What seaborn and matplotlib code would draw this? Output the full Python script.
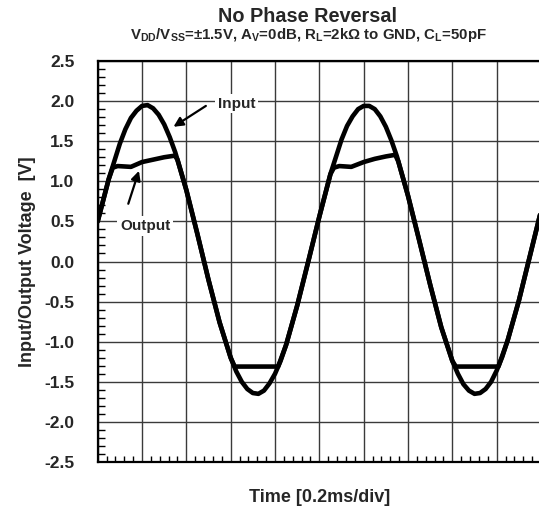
import matplotlib
matplotlib.use("Agg")
import matplotlib.pyplot as plt
from matplotlib.ticker import MultipleLocator, NullFormatter
import pandas as pd
import seaborn as sns

# Waveform samples (time in divisions of 0.2 ms, voltage in V)
input_time = [0.0, 0.25, 0.5, 0.625, 0.75, 0.875, 1.0, 1.125, 1.25, 1.375, 1.5, 1.625,
              1.75, 2.0, 2.25, 2.5, 2.75, 3.0, 3.125, 3.25, 3.375, 3.5, 3.625, 3.75,
              3.875, 4.0, 4.125, 4.25, 4.5, 4.75, 5.0, 5.25, 5.5, 5.625, 5.75, 5.875,
              6.0, 6.125, 6.25, 6.375, 6.5, 6.625, 6.75, 7.0, 7.25, 7.5, 7.75, 8.0,
              8.125, 8.25, 8.375, 8.5, 8.625, 8.75, 8.875, 9.0, 9.125, 9.25, 9.5,
              9.75, 10.0]
input_volt = [0.50, 1.03, 1.47, 1.65, 1.79, 1.88, 1.94, 1.95, 1.91, 1.83, 1.71, 1.55,
              1.36, 0.89, 0.34, -0.23, -0.76, -1.20, -1.37, -1.50, -1.59, -1.64, -1.65, -1.61,
              -1.52, -1.40, -1.24, -1.04, -0.55, 0.00, 0.56, 1.09, 1.52, 1.69, 1.81, 1.90,
              1.94, 1.94, 1.90, 1.81, 1.68, 1.51, 1.31, 0.82, 0.27, -0.29, -0.82, -1.24,
              -1.40, -1.53, -1.61, -1.65, -1.64, -1.59, -1.50, -1.36, -1.19, -0.98, -0.49,
              0.07, 0.63]

output_time = [0.0, 0.25, 0.34, 0.45, 0.75, 1.0, 1.25, 1.5, 1.74, 1.8, 2.0, 2.25,
               2.5, 2.75, 3.0, 3.09, 3.5, 4.07, 4.25, 4.5, 4.75, 5.0, 5.25, 5.33,
               5.45, 5.72, 6.0, 6.25, 6.5, 6.71, 6.78, 7.0, 7.25, 7.5, 7.75, 8.0,
               8.08, 8.5, 9.04, 9.25, 9.5, 9.75, 10.0]
output_volt = [0.50, 1.03, 1.17, 1.19, 1.18, 1.24, 1.27, 1.30, 1.32, 1.27, 0.89, 0.34,
               -0.23, -0.76, -1.20, -1.31, -1.31, -1.31, -1.04, -0.55, 0.00, 0.56, 1.09, 1.17,
               1.19, 1.18, 1.24, 1.28, 1.31, 1.33, 1.25, 0.82, 0.27, -0.29, -0.82, -1.24,
               -1.31, -1.31, -1.31, -0.98, -0.49, 0.07, 0.63]

y_ticks = [2.5, 2.0, 1.5, 1.0, 0.5, 0.0, -0.5, -1.0, -1.5, -2.0, -2.5]

sns.set_theme(style="white")
plt.rcParams["font.family"] = ["Liberation Sans", "DejaVu Sans"]
plt.rcParams["font.weight"] = "bold"
plt.rcParams["mathtext.fontset"] = "custom"
plt.rcParams["mathtext.rm"] = "Liberation Sans:bold"
plt.rcParams["mathtext.it"] = "Liberation Sans:bold"
plt.rcParams["mathtext.bf"] = "Liberation Sans:bold"

fig = plt.figure(figsize=(5.39, 5.13), dpi=100)
ax = fig.add_axes([97.7 / 539, 51 / 513, 443.3 / 539, 401 / 513])

df_in = pd.DataFrame({"t": input_time, "v": input_volt})
df_out = pd.DataFrame({"t": output_time, "v": output_volt})
line_kw = dict(color="black", lw=3.3, estimator=None, sort=False, zorder=3,
               solid_joinstyle="round", solid_capstyle="round")
sns.lineplot(data=df_in, x="t", y="v", ax=ax, **line_kw)
sns.lineplot(data=df_out, x="t", y="v", ax=ax, **line_kw)

ax.set_xlim(0, 10)
ax.set_ylim(-2.5, 2.5)
ax.xaxis.set_major_locator(MultipleLocator(1))
ax.xaxis.set_minor_locator(MultipleLocator(0.2))
ax.yaxis.set_minor_locator(MultipleLocator(0.1))
ax.set_yticks(y_ticks)
ax.set_yticklabels([f"{v:.1f}" for v in y_ticks])
ax.xaxis.set_major_formatter(NullFormatter())

ax.grid(True, which="major", color="#3a3a3a", lw=1.0, zorder=1)
ax.set_axisbelow(True)
ax.tick_params(axis="both", which="both", direction="in", top=False, right=False)
ax.tick_params(axis="x", which="major", length=0, bottom=True)
ax.tick_params(axis="x", which="minor", length=4, width=1.0, bottom=True, color="black")
ax.tick_params(axis="y", which="major", length=0, left=True, pad=16.8, labelsize=12.5)
ax.tick_params(axis="y", which="minor", length=5, width=1.0, left=True, color="black")
for side in ["left", "bottom", "top", "right"]:
    ax.spines[side].set_color("black")
    ax.spines[side].set_linewidth(1.6)

ax.set_xlabel("Time [0.2ms/div]", fontsize=13, fontweight="bold", labelpad=16)
ax.set_ylabel("Input/Output Voltage  [V]", fontsize=13, fontweight="bold", labelpad=6)

fig.text(308 / 539, 1 - 16.5 / 513, "No Phase Reversal", ha="center", va="center",
         fontsize=14.3, fontweight="bold")
fig.text(308 / 539, 1 - 35 / 513,
         r"V$_{\mathrm{DD}}$/V$_{\mathrm{SS}}$=±1.5V, A$_{\mathrm{V}}$=0dB, "
         r"R$_{\mathrm{L}}$=2kΩ to GND, C$_{\mathrm{L}}$=50pF",
         ha="center", va="center", fontsize=10.8, fontweight="bold")

box = dict(facecolor="white", edgecolor="none", pad=2)
arrow = dict(arrowstyle="-|>", color="black", lw=1.6, mutation_scale=14,
             shrinkA=0, shrinkB=0)
ax.text(3.14, 1.97, "Input", ha="center", va="center", fontsize=11,
        fontweight="bold", bbox=box, zorder=4)
ax.annotate("", xy=(1.71, 1.68), xytext=(2.44, 1.94), arrowprops=arrow, zorder=4)
ax.text(1.07, 0.44, "Output", ha="center", va="center", fontsize=11,
        fontweight="bold", bbox=box, zorder=4)
ax.annotate("", xy=(0.93, 1.13), xytext=(0.69, 0.72), arrowprops=arrow, zorder=4)

fig.savefig("out.png", dpi=100)
